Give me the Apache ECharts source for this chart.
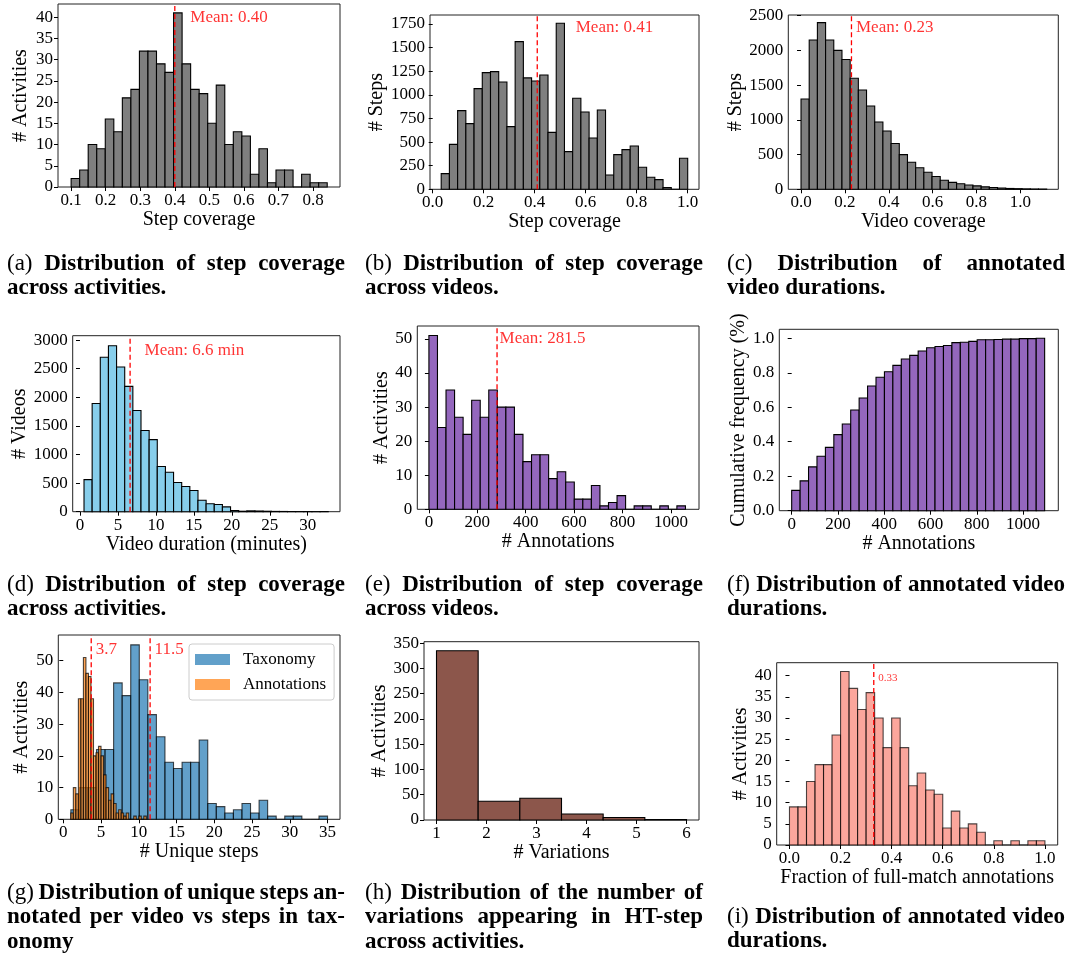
<!DOCTYPE html>
<html>
<head>
<meta charset="utf-8">
<script src="https://cdn.jsdelivr.net/npm/echarts@6/dist/echarts.min.js"></script>
<style>
  html, body { margin: 0; padding: 0; background: #fff; }
  #main { width: 1068px; height: 961px; }
</style>
</head>
<body>
<div id="main"></div>
<script>
// ---- data ----
// (a) step coverage across activities
const aBins = [0.1, 0.841];
const aCounts = [2, 4, 10, 9, 16, 13, 21, 23, 32, 32, 29, 27, 41, 29, 23, 22, 15, 24, 10, 13, 12, 3, 9, 1, 4, 4, 0, 3, 1, 1];
const aMean = 0.40;
const aXTicks = [0.1, 0.2, 0.3, 0.4, 0.5, 0.6, 0.7, 0.8];
const aYTicks = [0, 5, 10, 15, 20, 25, 30, 35, 40];

// (b) step coverage across videos
const bBins = [0.0333, 1.0];
const bCounts = [166, 476, 833, 695, 1066, 1235, 1246, 1136, 663, 1563, 1179, 1147, 1210, 603, 1757, 399, 963, 819, 543, 840, 152, 367, 420, 459, 233, 127, 102, 18, 0, 328];
const bMean = 0.41;
const bXTicks = [0, 0.2, 0.4, 0.6, 0.8, 1.0];
const bYTicks = [0, 250, 500, 750, 1000, 1250, 1500, 1750];

// (c) video coverage
const cBins = [0, 1.12];
const cCounts = [1300, 2150, 2400, 2150, 2000, 1870, 1600, 1430, 1200, 970, 840, 660, 500, 390, 310, 245, 185, 130, 100, 80, 62, 50, 35, 25, 18, 12, 9, 6, 4, 3];
const cMean = 0.23;
const cXTicks = [0, 0.2, 0.4, 0.6, 0.8, 1.0];
const cYTicks = [0, 500, 1000, 1500, 2000, 2500];

// (d) video duration
const dBins = [0.53, 32.7];
const dCounts = [560, 1890, 2700, 2900, 2530, 2190, 1770, 1420, 1260, 790, 690, 510, 440, 370, 200, 140, 125, 85, 20, 8, 15, 12, 8, 5, 4, 3, 2, 2, 1, 3];
const dMean = 6.6;
const dXTicks = [0, 5, 10, 15, 20, 25, 30];
const dYTicks = [0, 500, 1000, 1500, 2000, 2500, 3000];

// (e) annotations per activity
const eBins = [0, 1060];
const eCounts = [51, 24, 35, 27, 22, 32, 27, 35, 30, 30, 22, 14, 16, 16, 9, 11, 8, 3, 3, 7, 1, 2, 4, 0, 1, 1, 0, 1, 0, 1];
const eMean = 281.5;
const eXTicks = [0, 200, 400, 600, 800, 1000];
const eYTicks = [0, 10, 20, 30, 40, 50];

// (f) cumulative frequency of annotations
const fBins = [0, 1093];
const fCum = [0.118, 0.173, 0.254, 0.316, 0.367, 0.441, 0.503, 0.584, 0.654, 0.723, 0.774, 0.806, 0.843, 0.880, 0.901, 0.926, 0.945, 0.952, 0.958, 0.975, 0.977, 0.982, 0.991, 0.991, 0.993, 0.995, 0.995, 0.998, 0.998, 1.0];
const fXTicks = [0, 200, 400, 600, 800, 1000];
const fYTicks = [0, 0.2, 0.4, 0.6, 0.8, 1.0];

// (g) unique steps: taxonomy vs annotations
const gTaxBins = [1, 35];
const gTaxCounts = [3, 10, 10, 22, 22, 43, 39, 55, 44, 33, 26, 18, 16, 18, 18, 25, 5, 4, 2, 3, 5, 2, 6, 1, 0, 1, 1, 0, 0, 1];
const gAnnBins = [1, 11];
const gAnnCounts = [2, 10, 8, 38, 38, 51, 46, 45, 38, 20, 21, 23, 20, 14, 10, 6, 8, 5, 2, 3, 2, 1, 2, 0, 0, 1, 0, 1, 0, 1];
const gMeans = [3.7, 11.5];
const gXTicks = [0, 5, 10, 15, 20, 25, 30, 35];
const gYTicks = [0, 10, 20, 30, 40, 50];

// (h) number of variations
const hBins = [1, 6];
const hCounts = [335, 37, 43, 12, 5, 1];
const hXTicks = [1, 2, 3, 4, 5, 6];
const hYTicks = [0, 50, 100, 150, 200, 250, 300, 350];

// (i) fraction of full-match annotations
const iBins = [0, 1];
const iCounts = [9, 9, 15, 19, 19, 26, 41, 37, 32, 36, 30, 23, 30, 23, 14, 17, 13, 12, 4, 8, 4, 5, 3, 0, 1, 0, 1, 0, 1, 1];
const iMean = 0.33;
const iXTicks = [0, 0.2, 0.4, 0.6, 0.8, 1.0];
const iYTicks = [0, 5, 10, 15, 20, 25, 30, 35, 40];

// captions
const captions = [
  { x: 7,   y: 264, lines: ['(a) Distribution of step coverage', 'across activities.'] },
  { x: 365, y: 264, lines: ['(b) Distribution of step coverage', 'across videos.'] },
  { x: 727, y: 264, lines: ['(c) Distribution of annotated', 'video durations.'] },
  { x: 7,   y: 585, lines: ['(d) Distribution of step coverage', 'across activities.'] },
  { x: 365, y: 585, lines: ['(e) Distribution of step coverage', 'across videos.'] },
  { x: 727, y: 585, lines: ['(f) Distribution of annotated video', 'durations.'] },
  { x: 7,   y: 893, lines: ['(g) Distribution of unique steps an-', 'notated per video vs steps in tax-', 'onomy'] },
  { x: 365, y: 893, lines: ['(h) Distribution of the number of', 'variations appearing in HT-step', 'across activities.'] },
  { x: 727, y: 917, lines: ['(i) Distribution of annotated video', 'durations.'] }
];

// ---- layout ----
const FONT = '"Liberation Serif", "Times New Roman", serif';
const CAP_SIZE = 23, CAP_LH = 24.3, CAP_W = 338;
const fmt1 = v => v.toFixed(1);
const fmt0 = v => String(v);

const panels = [
  { grid: [58, 4, 282, 183], x: [0.062, 0.878], y: [0, 43.1], xt: aXTicks, yt: aYTicks, xf: fmt1, yf: fmt0,
    xName: 'Step coverage', yName: '# Activities', xGap: 23, yGap: 27,
    hists: [{ bins: aBins, counts: aCounts, color: '#7f7f7f' }],
    means: [{ v: aMean, text: 'Mean: 0.40', ly: 40, dx: 15 }] },
  { grid: [430, 15, 269, 174.3], x: [-0.0106, 1.0443], y: [0, 1845], xt: bXTicks, yt: bYTicks, xf: fmt1, yf: fmt0,
    xName: 'Step coverage', yName: '# Steps', xGap: 21, yGap: 36,
    hists: [{ bins: bBins, counts: bCounts, color: '#7f7f7f' }],
    means: [{ v: bMean, text: 'Mean: 0.41', ly: 1715, dx: 38 }] },
  { grid: [788.3, 15, 270, 174.3], x: [-0.058, 1.173], y: [0, 2510], xt: cXTicks, yt: cYTicks, xf: fmt1, yf: fmt0,
    xName: 'Video coverage', yName: '# Steps', xGap: 21, yGap: 37,
    hists: [{ bins: cBins, counts: cCounts, color: '#7f7f7f' }],
    means: [{ v: cMean, text: 'Mean: 0.23', ly: 2333, dx: 4 }] },
  { grid: [72.7, 335.7, 267.3, 176], x: [-0.96, 34.25], y: [0, 3076], xt: dXTicks, yt: dYTicks, xf: fmt0, yf: fmt0,
    xName: 'Video duration (minutes)', yName: '# Videos', xGap: 19, yGap: 37,
    hists: [{ bins: dBins, counts: dCounts, color: '#87ceeb' }],
    means: [{ v: dMean, text: 'Mean: 6.6 min', ly: 2814, dx: 14 }] },
  { grid: [417.3, 326, 281.7, 183.3], x: [-48, 1116], y: [0, 53.8], xt: eXTicks, yt: eYTicks, xf: fmt0, yf: fmt0,
    xName: '# Annotations', yName: '# Activities', xGap: 21, yGap: 26,
    hists: [{ bins: eBins, counts: eCounts, color: '#9467bd' }],
    means: [{ v: eMean, text: 'Mean: 281.5', ly: 50, dx: 2 }] },
  { grid: [779.3, 329.3, 279, 181.4], x: [-53.5, 1152], y: [0, 1.052], xt: fXTicks, yt: fYTicks, xf: fmt0, yf: fmt1,
    xName: '# Annotations', yName: 'Cumulative frequency (%)', xGap: 20, yGap: 22,
    hists: [{ bins: fBins, counts: fCum, color: '#9467bd' }],
    means: [] },
  { grid: [58.3, 635, 281.7, 184.3], x: [-0.66, 36.65], y: [0, 58.1], xt: gXTicks, yt: gYTicks, xf: fmt0, yf: fmt0,
    xName: '# Unique steps', yName: '# Activities', xGap: 21, yGap: 27,
    hists: [
      { bins: gTaxBins, counts: gTaxCounts, color: '#1f77b4', opacity: 0.7, name: 'Taxonomy', legendColor: '#62a0ca' },
      { bins: gAnnBins, counts: gAnnCounts, color: '#ff7f0e', opacity: 0.7, name: 'Annotations', legendColor: '#ffa556' }
    ],
    means: [{ v: gMeans[0], text: '3.7', ly: 53.4, dx: 4 }, { v: gMeans[1], text: '11.5', ly: 53.4, dx: 4 }] },
  { grid: [424, 641.7, 275, 178.3], x: [0.75, 6.25], y: [0, 353], xt: hXTicks, yt: hYTicks, xf: fmt0, yf: fmt0,
    xName: '# Variations', yName: '# Activities', xGap: 20, yGap: 30,
    hists: [{ bins: hBins, counts: hCounts, color: '#8c564b' }],
    means: [] },
  { grid: [776.7, 662.7, 281, 182.3], x: [-0.05, 1.05], y: [0, 43.07], xt: iXTicks, yt: iYTicks, xf: fmt1, yf: fmt0,
    xName: 'Fraction of full-match annotations', yName: '# Activities', xGap: 22, yGap: 26,
    hists: [{ bins: iBins, counts: iCounts, color: '#fa8072', opacity: 0.7 }],
    means: [{ v: iMean, text: '0.33', ly: 39.5, dx: 4, size: 11 }] }
];

function histSeries(gi, h) {
  const n = h.counts.length;
  const w = (h.bins[1] - h.bins[0]) / n;
  return {
    type: 'custom',
    name: h.name,
    xAxisIndex: gi,
    yAxisIndex: gi,
    silent: true,
    itemStyle: { color: h.legendColor || h.color },
    encode: { x: [0, 1], y: 2 },
    data: h.counts.map((c, i) => [h.bins[0] + i * w, h.bins[0] + (i + 1) * w, c]),
    renderItem: function (params, api) {
      const p0 = api.coord([api.value(0), 0]);
      const p1 = api.coord([api.value(1), api.value(2)]);
      return {
        type: 'rect',
        shape: { x: p0[0], y: p1[1], width: p1[0] - p0[0], height: p0[1] - p1[1] },
        style: { fill: h.color, stroke: '#000', lineWidth: 1.1, opacity: h.opacity || 1 }
      };
    },
    z: 2
  };
}

const grid = [], xAxis = [], yAxis = [], series = [];
panels.forEach((p, gi) => {
  grid.push({ left: p.grid[0], top: p.grid[1], width: p.grid[2], height: p.grid[3],
    show: true, borderColor: '#222', borderWidth: 1, backgroundColor: 'transparent' });
  const common = {
    type: 'value', gridIndex: gi,
    axisLine: { show: false }, splitLine: { show: false },
    nameLocation: 'middle',
    nameTextStyle: { fontFamily: FONT, fontSize: 20, color: '#000' }
  };
  xAxis.push(Object.assign({}, common, {
    min: p.x[0], max: p.x[1], name: p.xName, nameGap: p.xGap,
    axisTick: { show: true, customValues: p.xt, length: 4, lineStyle: { color: '#000' } },
    axisLabel: { customValues: p.xt, formatter: p.xf, fontFamily: FONT, fontSize: 17, color: '#000', margin: 5 }
  }));
  yAxis.push(Object.assign({}, common, {
    min: p.y[0], max: p.y[1], name: p.yName, nameGap: p.yGap, nameRotate: 90,
    axisTick: { show: true, customValues: p.yt, length: 4, lineStyle: { color: '#000' } },
    axisLabel: { customValues: p.yt, formatter: p.yf, fontFamily: FONT, fontSize: 17, color: '#000', margin: 5 }
  }));
  p.hists.forEach(h => series.push(histSeries(gi, h)));
  p.means.forEach(m => {
    series.push({
      type: 'line', xAxisIndex: gi, yAxisIndex: gi, silent: true, symbol: 'none', z: 5,
      data: [[m.v, p.y[0]], [m.v, p.y[1]]],
      lineStyle: { color: '#ff0000', width: 1.3, type: [5, 3] }
    });
    series.push({
      type: 'scatter', xAxisIndex: gi, yAxisIndex: gi, silent: true, z: 6,
      symbolSize: 1, itemStyle: { color: 'rgba(0,0,0,0)' },
      data: [[m.v, m.ly]],
      label: { show: true, position: 'right', distance: m.dx, formatter: m.text,
        color: '#ff0000', fontFamily: FONT, fontSize: m.size || 17 }
    });
  });
});

// caption text, justified like the LaTeX column
const ctx = document.createElement('canvas').getContext('2d');
function capFont(bold) { return (bold ? 'bold ' : '') + CAP_SIZE + 'px ' + FONT; }
function measure(t, bold) { ctx.font = capFont(bold); return ctx.measureText(t).width; }

const graphic = [];
captions.forEach(cap => {
  cap.lines.forEach((line, li) => {
    const words = line.split(' ');
    const items = words.map((w, wi) => ({ t: w, bold: !(li === 0 && wi === 0) }));
    const widths = items.map(it => measure(it.t, it.bold));
    const total = widths.reduce((s, v) => s + v, 0);
    const last = li === cap.lines.length - 1;
    const gap = (!last && items.length > 1) ? (CAP_W - total) / (items.length - 1) : measure(' ', true);
    let x = cap.x;
    items.forEach((it, i) => {
      graphic.push({
        type: 'text', x: x, y: cap.y + li * CAP_LH, silent: true,
        style: { text: it.t, font: capFont(it.bold), fill: '#000', verticalAlign: 'middle' }
      });
      x += widths[i] + gap;
    });
  });
});

const chart = echarts.init(document.getElementById('main'));
chart.setOption({
  animation: false,
  backgroundColor: '#fff',
  grid: grid,
  xAxis: xAxis,
  yAxis: yAxis,
  legend: {
    data: ['Taxonomy', 'Annotations'],
    left: 189, top: 644, orient: 'vertical',
    icon: 'rect', itemWidth: 35, itemHeight: 11, itemGap: 8,
    backgroundColor: '#fff', borderColor: '#ccc', borderWidth: 1, borderRadius: 3,
    padding: [7, 8, 7, 6],
    textStyle: { fontFamily: FONT, fontSize: 17, color: '#000', padding: [0, 0, 0, 8] }
  },
  series: series,
  graphic: graphic
});
</script>
</body>
</html>
